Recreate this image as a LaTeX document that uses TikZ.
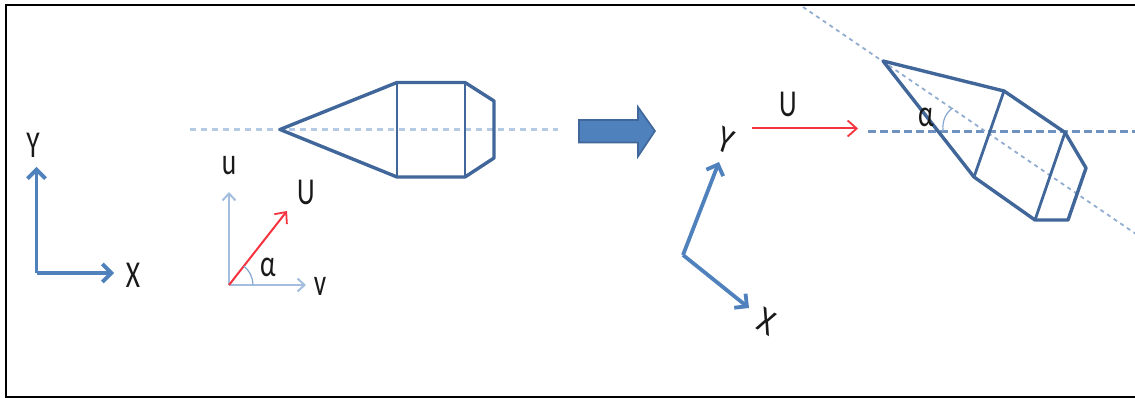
\documentclass[tikz,border=0pt]{standalone}
\usepackage{fontspec}
\setmainfont{Carlito}
\usetikzlibrary{arrows.meta}
\definecolor{axisblue}{HTML}{4F81BD}
\definecolor{lightblue}{HTML}{A3BEDF}
\definecolor{bodyblue}{HTML}{41679A}
\definecolor{dashblue}{HTML}{6F92C0}
\definecolor{dotblue}{HTML}{B5CAE4}
\definecolor{red1}{HTML}{F5333F}
\tikzset{
  lab/.style={inner sep=0pt,font=\fontsize{38}{38}\selectfont,xscale=.72,text=black!90},
  labsm/.style={lab,font=\fontsize{38}{38}\selectfont},
  thickaxis/.style={draw=axisblue,line width=3.8pt,-{Straight Barb[length=9pt,width=18pt,line width=3.8pt]}},
  thinaxis/.style={draw=lightblue,line width=2.6pt,-{Straight Barb[length=7pt,width=13pt,line width=2pt]}},
  redarrow/.style={draw=red1,line width=2pt,-{Straight Barb[length=9pt,width=16pt,line width=1.8pt]}},
  body/.style={draw=bodyblue,line width=3.4pt,line join=round},
  bodythin/.style={draw=bodyblue,line width=2.8pt},
  anglearc/.style={draw=axisblue!70,line width=1.2pt},
}
\begin{document}
\begin{tikzpicture}[x=1pt,y=-1pt]
\useasboundingbox (0,0) rectangle (1135,398);
\draw[black,line width=2.2pt] (1137,5) -- (6,5) -- (6,397) -- (1137,397);

% left frame
\coordinate (o1) at (36.5,273);
\coordinate (y1) at (36.5,167);
\coordinate (x1) at (114,273);
\draw[thickaxis] (o1) -- (y1);
\draw[thickaxis] (o1) -- (x1);
\node[lab] (Y1) at (33,145) {Y};
\node[lab] (X1) at (133,275) {X};

% u v frame
\coordinate (o2) at (229,285);
\coordinate (u2) at (229,192);
\coordinate (v2) at (306,285);
\coordinate (U2) at (287,211);
\draw[thinaxis] (o2) -- (u2);
\draw[thinaxis] (o2) -- (v2);
\draw[redarrow] (o2) -- (U2);
\draw[anglearc] (253,285) arc[start angle=0,end angle=-52,radius=24];
\node[labsm] (u2l) at (229,166) {u};
\node[lab] (U2l) at (306,192) {U};
\node[lab] (a2l) at (268,267) {α};
\node[labsm] (v2l) at (320,286) {v};

% left body
\coordinate (c1) at (190,129.5);
\coordinate (c2) at (558,129.5);
\draw[dotblue,line width=3.4pt,dash pattern=on 5.5pt off 5.5pt] (c1) -- (c2);
\coordinate (a1) at (280,129.5);
\coordinate (a2) at (397,82.5);
\coordinate (a3) at (465,82.5);
\coordinate (a4) at (494,101);
\coordinate (a5) at (494,158);
\coordinate (a6) at (465,177);
\coordinate (a7) at (397,177);
\draw[body] (a1) -- (a2) -- (a3) -- (a4) -- (a5) -- (a6) -- (a7) -- cycle;
\draw[bodythin] (a2) -- (a7);
\draw[bodythin] (a3) -- (a6);

% block arrow
\draw[fill=axisblue,draw=bodyblue,line width=1.6pt,line join=miter]
  (579,120) -- (638,120) -- (638,107) -- (655,131) -- (638,156.5) -- (638,142.5) -- (579,142.5) -- cycle;

% right frame
\coordinate (o3) at (683,255);
\coordinate (y3) at (719,162);
\coordinate (x3) at (749,308);
\draw[thickaxis] (o3) -- (y3);
\draw[thickaxis] (o3) -- (x3);
\node[lab,xscale=1.1,rotate=-22] (Y3) at (726,141) {Y};
\node[lab,xscale=1.1,rotate=-25] (X3) at (767,322) {X};

% red arrow
\coordinate (r1) at (752,128.5);
\coordinate (r2) at (858,128.5);
\draw[redarrow] (r1) -- (r2);
\node[lab] (U3) at (788,104) {U};

% right lines
\coordinate (d1) at (868,131.5);
\coordinate (d2) at (1136,131.5);
\draw[dashblue,line width=2.4pt,dash pattern=on 8pt off 4pt] (d1) -- (d2);
\coordinate (e1) at (803,7);
\coordinate (e2) at (1136,234);
\draw[dashblue!75,line width=1.8pt,dash pattern=on 4pt off 4pt] (e1) -- (e2);

% right body
\coordinate (b1) at (883,61);
\coordinate (b2) at (1004,91);
\coordinate (b3) at (1065,132.5);
\coordinate (b4) at (1086,168);
\coordinate (b5) at (1068,220);
\coordinate (b6) at (1035,220);
\coordinate (b7) at (974,177);
\draw[body] (b1) -- (b2) -- (b3) -- (b4) -- (b5) -- (b6) -- (b7) -- cycle;
\draw[bodythin] (b2) -- (b7);
\draw[bodythin] (b3) -- (b6);

\draw[anglearc] (943,131) .. controls (942,121) and (946,112) .. (953,108);
\node[lab] (a3l) at (926,117) {α};
\end{tikzpicture}
\end{document}
